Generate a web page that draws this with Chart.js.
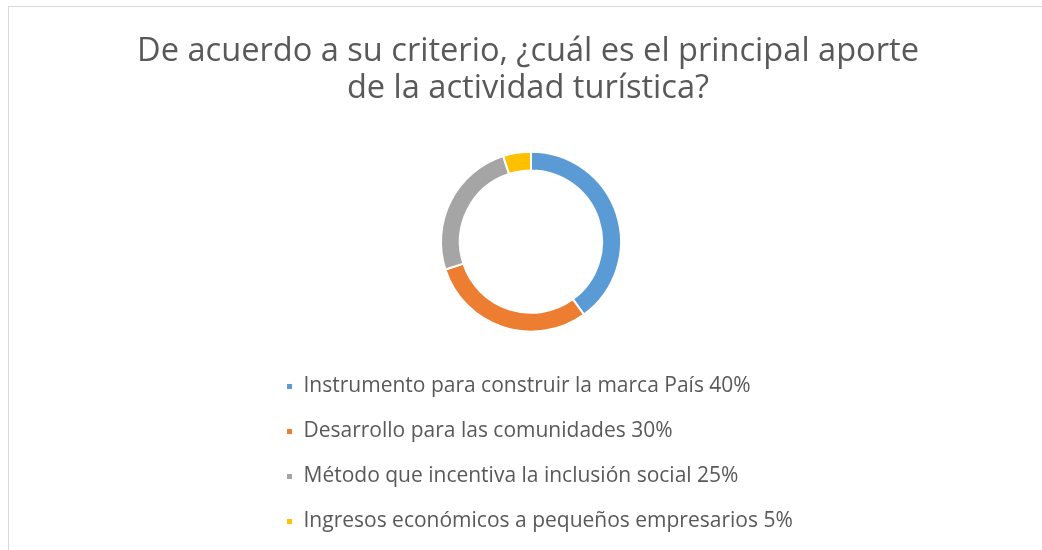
<!DOCTYPE html>
<html>
<head>
<meta charset="utf-8">
<script src="https://cdn.jsdelivr.net/npm/chart.js@4"></script>
<style>
  html, body { margin: 0; padding: 0; background: #fff; overflow: hidden; }
  .frame { position: absolute; left: 8px; top: 6px; width: 1200px; height: 700px; border: 1px solid #d9d9d9; }
  .wrap  { position: absolute; left: 0; top: 0; width: 1042px; height: 550px; }
</style>
</head>
<body>
<div class="frame"></div>
<div class="wrap"><canvas id="c"></canvas></div>
<script>
// ── DATOS ─────────────────────────────────────────────
const titleLines = ['De acuerdo a su criterio, ¿cuál es el principal aporte', 'de la actividad turística?'];
const categories = [
  'Instrumento para construir la marca País 40%',
  'Desarrollo para las comunidades 30%',
  'Método que incentiva la inclusión social 25%',
  'Ingresos económicos a pequeños empresarios 5%'
];
const values = [40, 30, 25, 5];
const sliceColors = ['#5B9BD5', '#ED7D31', '#A5A5A5', '#FFC000'];

const TEXT = '#595959';
const FONT = "'Open Sans', sans-serif";

// el padding lateral sirve para apilar la leyenda; el título ocupa todo el ancho
const wideTitle = {
  id: 'wideTitle',
  afterLayout(chart) {
    const t = chart.titleBlock;
    if (!t) return;
    t.left = 14;
    t.right = chart.width;
    t.width = t.right - t.left;
  }
};

new Chart(document.getElementById('c'), {
  type: 'doughnut',
  data: {
    labels: categories,
    datasets: [{
      data: values,
      backgroundColor: sliceColors,
      borderColor: '#ffffff',
      borderWidth: 2,
      radius: 90,
      cutout: '79%'
    }]
  },
  options: {
    responsive: true,
    maintainAspectRatio: false,
    animation: false,
    layout: { padding: { left: 262, right: 242, top: 34, bottom: 8 } },
    plugins: {
      title: {
        display: true,
        text: titleLines,
        color: TEXT,
        font: { family: FONT, size: 32.6, weight: 'normal', lineHeight: 1.11 },
        padding: { top: 0, bottom: 25 }
      },
      legend: {
        position: 'bottom',
        align: 'start',
        labels: {
          color: TEXT,
          font: { family: FONT, size: 21 },
          boxWidth: 7,
          boxHeight: 7,
          padding: 24
        }
      },
      tooltip: { enabled: false }
    }
  },
  plugins: [wideTitle]
});
</script>
</body>
</html>
